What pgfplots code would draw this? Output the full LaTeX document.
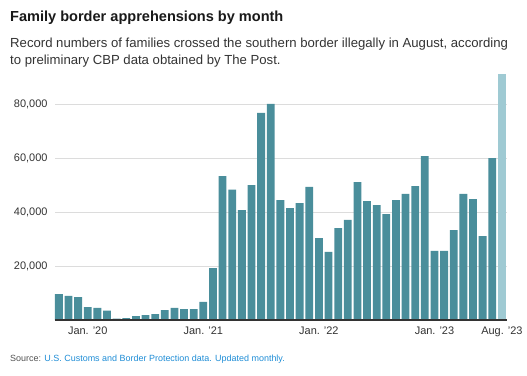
\documentclass[border=0pt]{standalone}
\usepackage{fontspec}
\setmainfont{Liberation Sans}
\usepackage{pgfplots}
\pgfplotsset{compat=1.18}
\definecolor{barc}{HTML}{4A8E9B}
\definecolor{barl}{HTML}{9FCAD3}
\definecolor{gridc}{HTML}{DCDCDC}
\definecolor{txt}{HTML}{333333}
\definecolor{src}{HTML}{1F8DD6}
\begin{document}
\begin{tikzpicture}[x=1bp,y=1bp]
\path[use as bounding box] (0,0) rectangle (527,375);
\begin{axis}[
  at={(55bp,55bp)}, anchor=south west,
  scale only axis, width=451.7bp, height=248.4bp,
  xmin=-0.4, xmax=46.5, ymin=0, ymax=92000,
  axis line style={draw=none},
  ytick={20000,40000,60000,80000},
  ymajorgrids, grid style={gridc, line width=0.8pt},
  major tick length=0pt,
  yticklabel style={font=\fontsize{11}{13}\selectfont, text=txt, xshift=-4bp},
  xticklabel style={font=\fontsize{11}{13}\selectfont, text=txt, yshift=-3bp},
  /pgf/number format/assume math mode=true,
  /pgf/number format/1000 sep={,},
  scaled y ticks=false,
  xtick={3,15,27,39,46},
  xticklabels={Jan. '20, Jan. '21, Jan. '22, Jan. '23, Aug. '23},
  ybar, bar width=0.81, bar shift=0pt,
  clip=false,
]
\addplot[fill=barc, draw=none] coordinates {
(0,9600) (1,8900) (2,8500) (3,4800) (4,4450) (5,3460) (6,500) (7,740)
(8,1480) (9,1850) (10,2220) (11,3700) (12,4450) (13,4070) (14,4070) (15,6670)
(16,19260) (17,53300) (18,48270) (19,40740) (20,50000) (21,76670) (22,80000)
(23,44440) (24,41480) (25,43330) (26,49260) (27,30370) (28,25190) (29,34070)
(30,37040) (31,51110) (32,44070) (33,42590) (34,39260) (35,44440) (36,46670)
(37,49630) (38,60740) (39,25560) (40,25560) (41,33330) (42,46670) (43,44810)
(44,31110) (45,60000)
};
\addplot[fill=barl, draw=none] coordinates {(46,91200)};
\draw[txt, line width=1.2pt] (axis cs:-0.4,0) -- (axis cs:46.5,0);
\end{axis}
\node[anchor=base west, inner sep=0, font=\fontsize{14.6}{18}\bfseries\selectfont, text=black!90] at (10,354) {Family border apprehensions by month};
\node[anchor=base west, inner sep=0, font=\fontsize{13.2}{17}\selectfont, text=txt] at (10,328) {Record numbers of families crossed the southern border illegally in August, according};
\node[anchor=base west, inner sep=0, font=\fontsize{13.2}{17}\selectfont, text=txt] at (10,311) {to preliminary CBP data obtained by The Post.};
\node[anchor=base west, inner sep=0, font=\fontsize{9}{11}\selectfont] at (10,14) {\textcolor{txt!85}{Source:} \textcolor{src}{U.S. Customs and Border Protection data. Updated monthly.}};
\end{tikzpicture}
\end{document}
